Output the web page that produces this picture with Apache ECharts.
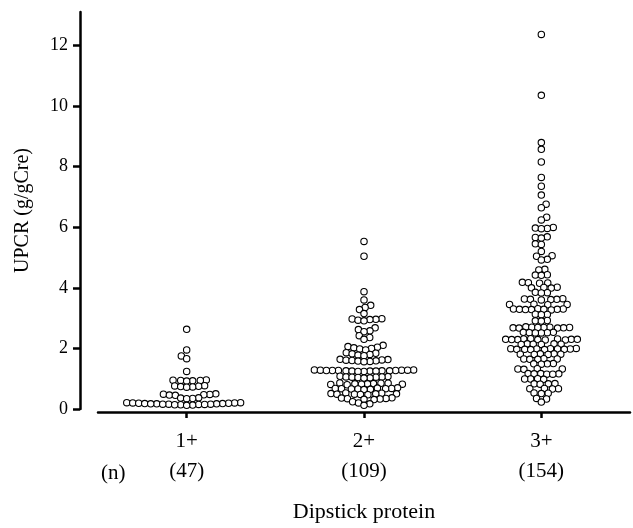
<!DOCTYPE html>
<html><head><meta charset="utf-8">
<script src="https://cdn.jsdelivr.net/npm/echarts@6/dist/echarts.min.js"></script>
<style>html,body{margin:0;padding:0;background:#fff}#chart{width:633px;height:528px}</style>
</head><body><div id="chart"></div>
<script>
const categories = ['1+', '2+', '3+'];
const nLabel = '(n)';
const yTicks = [0, 2, 4, 6, 8, 10, 12];

const group1 = [2.63, 1.95, 1.75, 1.66, 1.24,
  0.96, 0.95, 0.94, 0.94, 0.93, 0.92,
  0.77, 0.76, 0.75, 0.74, 0.73, 0.72,
  0.5, 0.49, 0.48, 0.47, 0.46, 0.45,
  0.37, 0.36, 0.35, 0.34,
  0.21, 0.21, 0.2, 0.2, 0.19, 0.19, 0.18, 0.18, 0.17, 0.17, 0.17, 0.16, 0.16, 0.16, 0.15, 0.15, 0.14, 0.14, 0.13, 0.12];

const group2 = [5.53, 5.04,
  3.87, 3.6, 3.42, 3.35, 3.28, 3.15,
  2.98, 2.97, 2.96, 2.95, 2.93, 2.91,
  2.68, 2.62, 2.58, 2.55,
  2.42, 2.36, 2.3,
  2.1, 2.06, 2.04, 2.02, 2.0, 1.98, 1.95,
  1.86, 1.84, 1.82, 1.8, 1.78, 1.76,
  1.64, 1.63, 1.62, 1.61, 1.6, 1.59, 1.58, 1.57, 1.56,
  1.29, 1.29, 1.28, 1.28, 1.28, 1.27, 1.27, 1.27, 1.27, 1.26, 1.26, 1.26, 1.25, 1.25, 1.25, 1.24, 1.24,
  1.08, 1.07, 1.06, 1.06, 1.05, 1.05, 1.04, 1.03, 1.02,
  0.86, 0.85, 0.85, 0.84, 0.83, 0.83, 0.82, 0.82, 0.81, 0.8,
  0.7, 0.69, 0.68, 0.68, 0.67, 0.67, 0.66, 0.66, 0.65, 0.64,
  0.53, 0.52, 0.51, 0.5, 0.5, 0.49, 0.49, 0.48, 0.47,
  0.37, 0.36, 0.35, 0.34, 0.33, 0.32, 0.31,
  0.24, 0.2, 0.17, 0.12];

const group3 = [12.36, 10.35, 8.79, 8.57, 8.15, 7.64, 7.35, 7.06, 6.76, 6.64, 6.33, 6.24,
  5.99, 5.97, 5.96, 5.95,
  5.68, 5.66, 5.64,
  5.45, 5.43,
  5.2,
  5.06, 5.04,
  4.94, 4.92,
  4.61, 4.59,
  4.43, 4.42, 4.41,
  4.18, 4.17, 4.16, 4.15,
  4.02, 4.01, 4.0, 3.99,
  3.85, 3.84, 3.83,
  3.64, 3.63, 3.62, 3.62, 3.61, 3.6,
  3.46, 3.45, 3.45, 3.44,
  3.31, 3.3, 3.3, 3.29, 3.29, 3.29, 3.28, 3.28, 3.27,
  3.13, 3.12, 3.11,
  2.92, 2.91, 2.9,
  2.71, 2.7, 2.7, 2.69, 2.69, 2.69, 2.68, 2.68, 2.67, 2.67,
  2.53, 2.53, 2.52, 2.52, 2.51, 2.51,
  2.32, 2.31, 2.31, 2.3, 2.3, 2.3, 2.29, 2.29, 2.29, 2.28, 2.28,
  2.15, 2.15, 2.14, 2.14, 2.13, 2.13,
  2.0, 1.99, 1.99, 1.98, 1.98, 1.98, 1.97, 1.97, 1.97, 1.96, 1.96,
  1.82, 1.82, 1.81, 1.81, 1.8, 1.8,
  1.66, 1.65, 1.65, 1.64, 1.64,
  1.5, 1.49, 1.49, 1.48,
  1.33, 1.32, 1.32, 1.31,
  1.17, 1.17, 1.16, 1.16, 1.15, 1.15,
  1.0, 0.99, 0.99, 0.98,
  0.84, 0.83, 0.83, 0.82,
  0.68, 0.67, 0.67, 0.66,
  0.53, 0.52, 0.51,
  0.35, 0.33,
  0.23];

const groups = [group1, group2, group3];
const FONT = "'Liberation Serif','Times New Roman',serif";
const D = 6.0; // collision distance in px for the swarm layout

const chart = echarts.init(document.getElementById('chart'), null, {renderer: 'canvas'});

const symbolStyle = {
  type: 'scatter', symbol: 'circle', symbolSize: 6.4,
  itemStyle: {color: '#fff', borderColor: '#000', borderWidth: 1.1, opacity: 1},
  silent: true, animation: false
};

const option = {
  animation: false,
  backgroundColor: '#fff',
  grid: {left: 98, right: 3, top: 12, bottom: 116, containLabel: false},
  xAxis: {
    type: 'value', min: 0.5, max: 3.5, offset: 3,
    name: 'Dipstick protein', nameLocation: 'middle', nameGap: 89,
    nameTextStyle: {fontFamily: FONT, fontSize: 22, color: '#000'},
    axisLine: {show: true, onZero: false, lineStyle: {color: '#000', width: 2.5}},
    axisTick: {show: true, length: 6, customValues: [1, 2, 3], lineStyle: {color: '#000', width: 2.5}},
    axisLabel: {
      customValues: [1, 2, 3], margin: 14,
      formatter: v => {
        const i = Math.round(v) - 1;
        return '{a|' + categories[i] + '}\n{b|(' + groups[i].length + ')}';
      },
      rich: {
        a: {fontFamily: FONT, fontSize: 21, lineHeight: 30, color: '#000'},
        b: {fontFamily: FONT, fontSize: 21, lineHeight: 30, color: '#000'}
      }
    },
    splitLine: {show: false}
  },
  yAxis: {
    type: 'value', min: 0, max: 13.1, offset: 18,
    name: 'UPCR (g/gCre)', nameLocation: 'middle', nameGap: 47,
    nameTextStyle: {fontFamily: FONT, fontSize: 20, color: '#000'},
    axisLine: {show: true, onZero: false, lineStyle: {color: '#000', width: 2.5}},
    axisTick: {show: true, length: 7, customValues: yTicks, lineStyle: {color: '#000', width: 2.5}},
    axisLabel: {customValues: yTicks, margin: 12, fontFamily: FONT, fontSize: 18, color: '#000'},
    splitLine: {show: false}
  },
  graphic: [{
    type: 'text', left: 101, top: 463,
    style: {text: nLabel, font: '21px ' + FONT, fill: '#000'}
  }],
  series: groups.map((vals, gi) => Object.assign({}, symbolStyle, {data: vals.map(v => [gi + 1, v])}))
};
chart.setOption(option);

// Beeswarm layout: each dot (lowest value first) takes the position nearest the
// category centre that does not collide with dots already placed.
function swarm(cx, ys, d) {
  const order = ys.map((y, i) => i).sort((a, b) => ys[b] - ys[a]);
  const placed = [];
  const xs = new Array(ys.length);
  let flip = 1;
  for (const i of order) {
    const y = ys[i];
    const cands = [0];
    for (const p of placed) {
      const dy = Math.abs(p.y - y);
      if (dy < d) {
        const dx = Math.sqrt(d * d - dy * dy);
        cands.push(p.x + dx, p.x - dx);
      }
    }
    cands.sort((a, b) => (Math.abs(a) - Math.abs(b)) || (flip * (a - b)));
    let best = 0;
    for (const c of cands) {
      let ok = true;
      for (const p of placed) {
        const dx = p.x - c, dy = p.y - y;
        if (dx * dx + dy * dy < d * d - 1e-6) { ok = false; break; }
      }
      if (ok) { best = c; break; }
    }
    flip = -flip;
    placed.push({x: best, y: y});
    xs[i] = cx + best;
  }
  return xs;
}

const series = groups.map((vals, gi) => {
  const cx = chart.convertToPixel({gridIndex: 0}, [gi + 1, 0])[0];
  const ys = vals.map(v => chart.convertToPixel({gridIndex: 0}, [gi + 1, v])[1]);
  const xs = swarm(cx, ys, D);
  const data = vals.map((v, i) => [chart.convertFromPixel({gridIndex: 0}, [xs[i], ys[i]])[0], v]);
  return Object.assign({}, symbolStyle, {data: data});
});
chart.setOption({series: series});
</script>
</body></html>
